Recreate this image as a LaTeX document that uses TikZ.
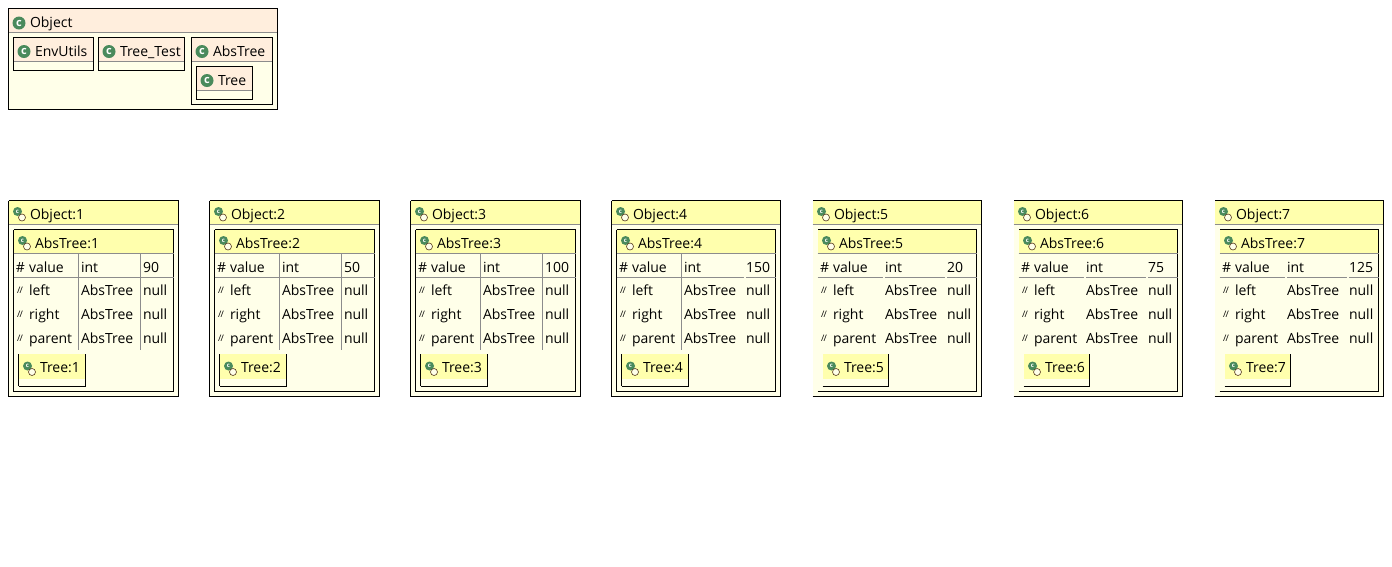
\documentclass[tikz,border=0pt]{standalone}
\usepackage{fontspec}
\setmainfont{Open Sans}
\definecolor{peach}{HTML}{FFEEDD}
\definecolor{paper}{HTML}{FFFFE9}
\definecolor{straw}{HTML}{FFFFAD}
\definecolor{iconc}{HTML}{4A8A5C}
\definecolor{rule}{HTML}{8C8C8C}
\tikzset{
  celltext/.style={anchor=base west,inner sep=0pt,outer sep=0pt,font=\fontsize{14}{16}\selectfont,text=black},
  fieldmark/.style={anchor=base west,inner sep=0pt,font=\fontsize{9}{9}\selectfont,text=black},
  classicon/.style={circle,fill=iconc,inner sep=0pt,minimum size=13pt,text=white,font=\fontsize{11}{11}\selectfont\bfseries},
  objicon/.style={circle,fill=iconc,inner sep=0pt,minimum size=9pt,text=white,font=\fontsize{6}{6}\selectfont\bfseries},
  ringicon/.style={circle,draw=black!55!brown,fill=paper,inner sep=0pt,minimum size=7pt,line width=0.6pt}
}
\begin{document}
\begin{tikzpicture}[x=1pt,y=-1pt,line width=1pt]
  \useasboundingbox (0,0) rectangle (1392,566);
  % class tree
  \fill[paper] (8.5,8.5) rectangle (277.5,109.5);
  \fill[peach] (8.5,8.5) rectangle (277.5,32.5);
  \draw[rule] (8.5,32.5) -- (277.5,32.5);
  \draw (8.5,8.5) rectangle (277.5,109.5);
  \node[classicon] (objecticon) at (19,23) {c};
  \node[celltext] (objecttext) at (30,27) {Object};
  \fill[peach] (13.5,37.5) rectangle (93.5,61.5);
  \draw[rule] (13.5,61.5) -- (93.5,61.5);
  \draw (13.5,37.5) rectangle (93.5,70.5);
  \node[classicon] (envicon) at (24,51.5) {c};
  \node[celltext] (envtext) at (35,56) {EnvUtils};
  \fill[peach] (98.5,37.5) rectangle (184.5,61.5);
  \draw[rule] (98.5,61.5) -- (184.5,61.5);
  \draw (98.5,37.5) rectangle (184.5,70.5);
  \node[classicon] (testicon) at (109,51.5) {c};
  \node[celltext] (testtext) at (120,56) {Tree\_Test};
  \fill[peach] (191.5,37.5) rectangle (272.5,61.5);
  \draw[rule] (191.5,61.5) -- (272.5,61.5);
  \draw (191.5,37.5) rectangle (272.5,104.5);
  \node[classicon] (absicon) at (202,51.5) {c};
  \node[celltext] (abstext) at (213,56) {AbsTree};
  \fill[peach] (196.5,66.5) rectangle (252.5,90.5);
  \draw[rule] (196.5,90.5) -- (252.5,90.5);
  \draw (196.5,66.5) rectangle (252.5,99.5);
  \node[classicon] (treeicon) at (207,80.5) {c};
  \node[celltext] (treetext) at (218,85) {Tree};
  % instances: number/left edge/value/width/tree width/left lines/first column/second column
  \foreach \n/\ox/\val/\w/\tw/\lb/\ca/\cb in {
      1/8.5/90/170/77/black/rule/rule,
      2/209.5/50/170/77/black/rule/rule,
      3/410.5/100/170/77/black/rule/rule,
      4/611.5/150/169/77/black/rule/none,
      5/812.5/20/169/76/none/none/none,
      6/1013.5/75/169/76/none/none/none,
      7/1214.5/125/169/76/none/none/none}{
    \begin{scope}[shift={(\ox,0)}]
      \fill[paper] (0,200.5) rectangle (\w,396.5);
      \fill[straw] (0,200.5) rectangle (\w,224.5);
      \draw[rule] (0,224.5) -- (\w,224.5);
      \draw (0,396.5) -- (\w,396.5) -- (\w,200.5) -- (0,200.5);
      \draw[draw=\lb] (0,200.5) -- (0,396.5);
      \node[objicon] (oicon\n) at (9,211.5) {c};
      \node[ringicon] (oring\n) at (13.5,217.5) {};
      \node[celltext] (otext\n) at (21.5,219) {Object:\n};
      % abstract part
      \fill[straw] (5,229.5) rectangle (\w-5,253.5);
      \draw (5,391.5) -- (\w-5,391.5) -- (\w-5,229.5) -- (5,229.5);
      \draw[draw=\lb] (5,229.5) -- (5,391.5);
      \node[objicon] (aicon\n) at (14,240.5) {c};
      \node[ringicon] (aring\n) at (18.5,246.5) {};
      \node[celltext] (atext\n) at (26.5,248) {AbsTree:\n};
      \draw[rule] (5,253.5) -- (\w-5,253.5);
      \draw[rule] (5,277.5) -- (\w-5,277.5);
      \draw[draw=\ca] (70,253.5) -- (70,350);
      \draw[draw=\cb] (132,253.5) -- (132,350);
      \ifnum\n>4
        \draw[paper,line width=2pt] (70,277.5) -- (72.5,277.5) (132,277.5) -- (134.5,277.5);
      \fi
      \ifnum\n=4
        \draw[paper,line width=2pt] (132,277.5) -- (134.5,277.5);
      \fi
      % fields
      \node[celltext] (vmark\n) at (7.5,272) {\#};
      \node[celltext] (vname\n) at (20.5,272) {value};
      \node[celltext] (vtype\n) at (72.5,272) {int};
      \node[celltext] (vval\n) at (134.5,272) {\val};
      \foreach \f/\y in {left/295,right/319,parent/343}{
        \node[fieldmark] (\f mark\n) at (8.2,\y-1.5) {/\kern-1pt/};
        \node[celltext] (\f name\n) at (20.5,\y) {\f};
        \node[celltext] (\f type\n) at (72.5,\y) {AbsTree};
        \node[celltext] (\f val\n) at (134.5,\y) {null};
      }
      % concrete part
      \fill[straw] (10,354) rectangle (\tw,378.5);
      \draw (10,386) -- (\tw,386) -- (\tw,354);
      \draw[draw=\lb] (10,354) -- (10,386);
      \node[objicon] (ticon\n) at (19,366) {c};
      \node[ringicon] (tring\n) at (23.5,372) {};
      \node[celltext] (ttext\n) at (31.5,372) {Tree:\n};
    \end{scope}
  }
\end{tikzpicture}
\end{document}
